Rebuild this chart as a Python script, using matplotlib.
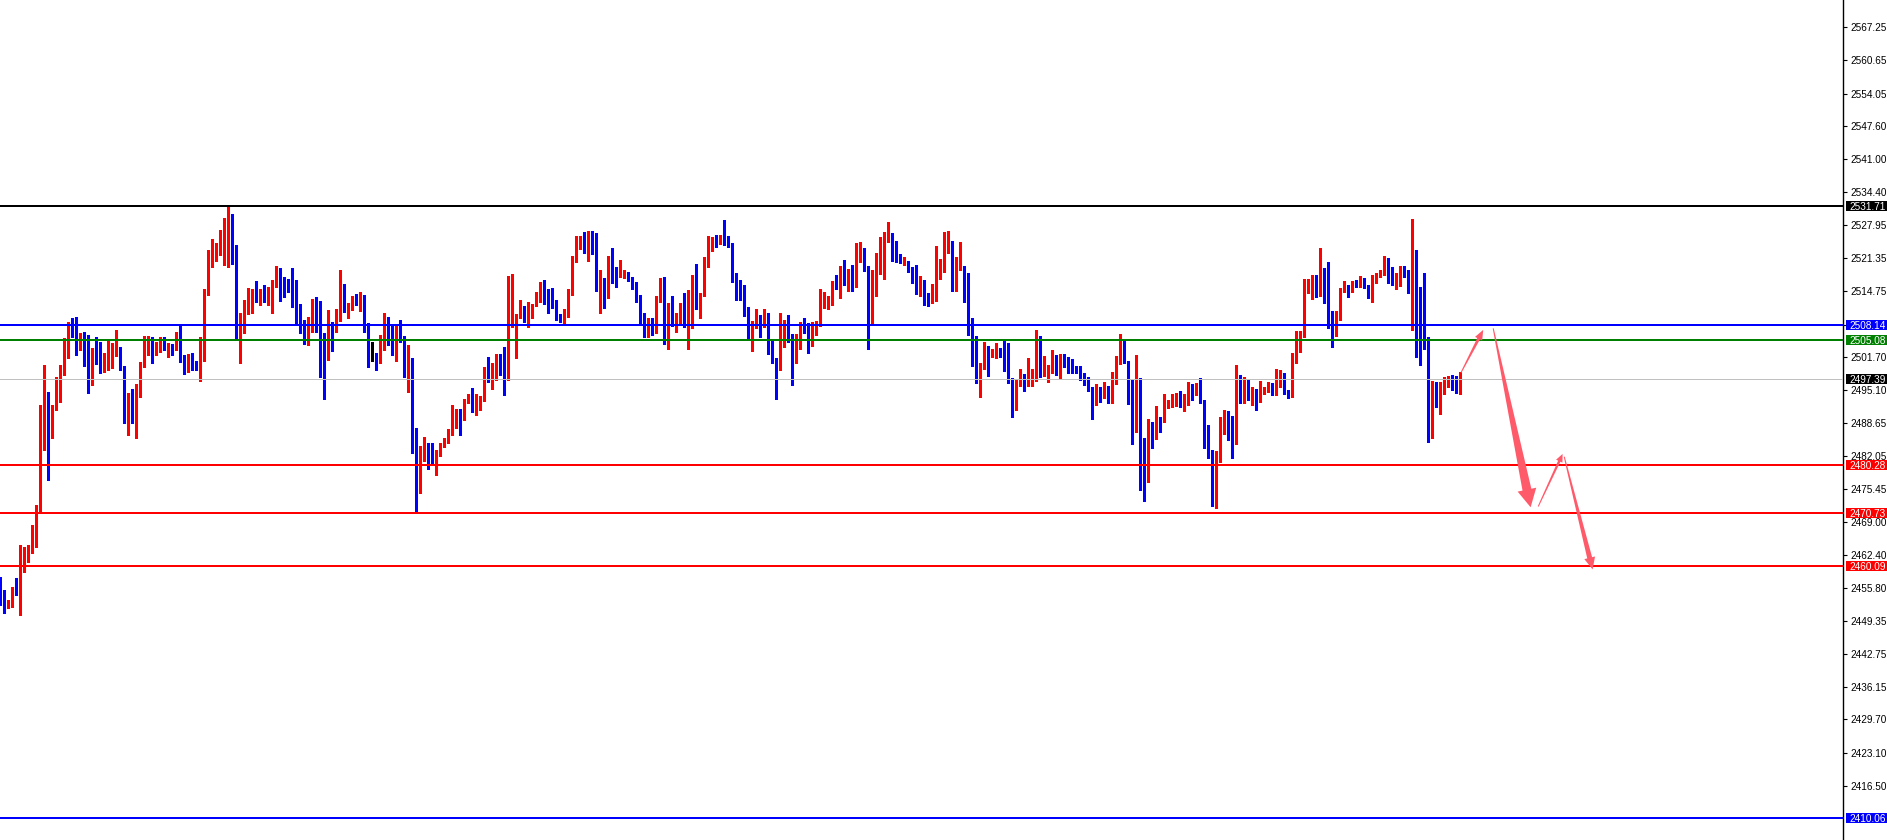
import matplotlib
matplotlib.use("Agg")
import matplotlib.pyplot as plt
from matplotlib.patches import Polygon, Rectangle
import matplotlib.transforms as mtransforms
import numpy as np

# ---------------- data ----------------
opens = [
 2457.41,2454.76,2452.11,2452.44,2455.42,2454.76,2461.71,2462.04,2463.04,2464.16,
 2471.98,2491.51,2493.96,2486.88,2491.51,2495.82,2499.59,2502.97,2508.07,2508.73,
 2504.56,2505.75,2501.58,2496.15,2503.24,2502.90,2499.99,2499.92,2502.31,2502.97,
 2503.43,2499.33,2489.06,2494.36,2489.33,2495.95,2500.12,2503.76,2504.76,2503.24,
 2503.90,2505.42,2503.24,2504.10,2503.24,2504.76,2501.91,2499.33,2501.45,2500.78,
 2499.13,2502.11,2514.69,2519.66,2521.31,2522.64,2526.15,2526.61,2529.72,2523.76,
 2508.07,2508.73,2510.26,2513.04,2514.89,2513.83,2514.69,2512.71,2513.17,2516.48,
 2519.33,2517.34,2516.02,2515.02,2514.36,2509.73,2507.08,2505.09,2509.06,2511.71,
 2510.39,2502.90,2501.12,2508.53,2506.94,2508.93,2515.82,2511.18,2511.71,2513.83,
 2512.51,2513.70,2507.41,2501.98,2502.11,2501.58,2505.95,2507.54,2507.08,2503.30,
 2507.08,2504.96,2499.26,2500.45,2487.54,2479.79,2481.58,2484.23,2482.24,2481.91,
 2482.70,2484.23,2484.89,2487.21,2489.53,2490.85,2489.53,2492.64,2493.17,2491.51,
 2492.64,2493.17,2498.80,2498.60,2498.80,2501.31,2501.12,2498.34,2508.93,2509.39,
 2510.06,2510.85,2509.39,2510.39,2511.84,2512.71,2515.22,2514.23,2513.17,2512.17,
 2510.06,2508.73,2510.92,2514.49,2520.85,2523.76,2524.96,2524.82,2525.29,2522.97,
 2515.02,2516.02,2515.69,2521.64,2518.20,2517.67,2517.94,2518.47,2517.34,2515.55,
 2513.24,2509.73,2508.53,2509.06,2507.08,2513.57,2514.82,2504.76,2511.05,2508.60,
 2508.86,2511.51,2509.73,2512.04,2514.69,2511.84,2514.23,2519.79,2524.16,2524.96,
 2524.30,2525.62,2525.09,2524.43,2517.01,2516.21,2515.82,2511.51,2505.55,2508.40,
 2509.86,2508.07,2510.06,2504.96,2501.25,2500.45,2506.28,2507.54,2506.08,2501.58,
 2505.09,2508.07,2507.74,2504.56,2506.94,2507.94,2512.04,2512.51,2512.51,2516.35,
 2515.69,2518.80,2516.68,2519.00,2516.88,2522.64,2522.97,2519.79,2508.93,2516.48,
 2521.98,2522.17,2524.96,2525.75,2522.97,2521.12,2520.65,2520.78,2519.53,2517.80,
 2515.82,2516.02,2513.50,2513.04,2513.50,2517.47,2519.00,2522.64,2524.16,2515.02,
 2519.33,2519.66,2515.02,2509.06,2502.31,2497.34,2499.33,2502.31,2502.11,2502.11,
 2502.90,2502.90,2500.65,2497.14,2491.84,2496.61,2496.94,2496.35,2497.34,2498.60,
 2505.62,2498.00,2498.47,2499.46,2501.78,2499.00,2501.91,2501.31,2500.12,2499.46,
 2499.46,2497.47,2497.14,2495.82,2493.37,2495.15,2494.49,2495.82,2494.82,2497.60,
 2500.59,2503.90,2500.78,2497.14,2489.39,2493.17,2480.25,2477.94,2488.20,2485.75,
 2489.53,2489.06,2491.84,2492.64,2492.71,2493.17,2492.04,2493.17,2495.15,2494.82,
 2495.82,2493.04,2484.23,2482.04,2472.97,2481.38,2488.87,2489.20,2486.41,2485.09,
 2496.15,2493.83,2496.81,2493.83,2494.49,2493.04,2495.15,2495.29,2495.69,2495.02,
 2496.15,2497.94,2494.82,2494.03,2501.78,2504.30,2506.28,2514.56,2515.22,2516.21,
 2515.15,2517.54,2514.82,2508.53,2506.94,2510.06,2514.89,2515.55,2514.69,2516.68,
 2515.89,2517.21,2515.82,2513.57,2517.34,2518.00,2518.20,2519.99,2519.00,2516.21,
 2517.54,2519.00,2519.00,2516.15,2522.17,2509.20,2506.74,2505.22,2488.67,2495.49,
 2494.36,2495.49,2496.61,2497.67,2496.81,2494.96]

highs = [
 2458.07,2455.42,2453.44,2456.08,2457.74,2464.36,2464.03,2464.36,2468.33,2472.31,
 2492.18,2500.12,2494.82,2492.18,2497.80,2500.12,2505.42,2508.73,2509.39,2509.73,
 2506.55,2506.74,2506.08,2503.43,2505.75,2504.63,2502.44,2504.96,2504.56,2507.08,
 2503.63,2499.92,2494.62,2495.29,2496.35,2500.78,2505.88,2505.88,2505.75,2504.76,
 2505.75,2505.75,2504.56,2504.30,2506.74,2508.07,2502.11,2502.31,2502.57,2500.98,
 2505.75,2515.15,2522.97,2525.09,2524.30,2526.94,2529.26,2531.71,2530.12,2523.96,
 2510.39,2513.04,2515.35,2515.15,2516.88,2515.22,2516.02,2515.69,2517.01,2519.79,
 2519.33,2517.67,2517.14,2519.33,2517.01,2512.24,2509.06,2509.73,2513.24,2513.70,
 2512.84,2506.41,2511.05,2508.73,2511.25,2519.00,2516.21,2512.37,2513.83,2514.16,
 2514.62,2514.03,2508.40,2504.63,2502.44,2506.08,2510.39,2509.73,2508.07,2508.07,
 2509.06,2505.88,2504.10,2501.45,2487.54,2484.03,2485.75,2484.56,2484.56,2483.24,
 2484.69,2485.55,2487.41,2492.18,2491.31,2491.31,2493.30,2494.36,2495.49,2494.36,
 2493.96,2499.79,2501.64,2500.45,2502.31,2502.24,2503.76,2517.80,2518.20,2510.26,
 2513.04,2511.91,2512.57,2512.24,2514.62,2516.54,2517.01,2515.29,2515.42,2513.04,
 2510.26,2511.25,2515.15,2521.78,2525.75,2525.75,2526.48,2526.81,2526.74,2526.41,
 2519.00,2517.47,2521.78,2523.43,2519.66,2520.98,2519.00,2518.67,2517.67,2516.54,
 2514.03,2510.52,2509.39,2509.39,2513.83,2517.47,2517.54,2512.51,2513.83,2510.52,
 2512.37,2514.49,2515.02,2518.00,2520.19,2514.49,2521.64,2525.75,2525.62,2525.95,
 2525.95,2528.93,2525.75,2524.43,2518.33,2517.01,2516.02,2511.71,2508.93,2511.25,
 2510.06,2511.25,2510.39,2504.96,2501.45,2510.52,2509.06,2510.06,2506.28,2506.28,
 2508.73,2509.53,2508.53,2508.60,2508.86,2515.22,2514.69,2513.83,2516.88,2518.00,
 2519.79,2520.98,2519.13,2519.99,2524.30,2524.49,2523.30,2519.79,2519.00,2522.31,
 2525.62,2526.61,2528.60,2526.28,2524.82,2522.17,2521.64,2520.85,2519.66,2519.99,
 2517.80,2517.01,2514.36,2516.21,2523.76,2521.18,2526.61,2526.74,2524.76,2521.64,
 2524.63,2519.79,2518.47,2509.39,2505.88,2500.45,2504.63,2503.90,2503.24,2504.43,
 2503.43,2504.96,2504.56,2497.47,2497.14,2499.33,2498.34,2501.45,2499.26,2507.08,
 2505.95,2501.98,2500.12,2503.10,2502.11,2502.31,2502.31,2501.78,2501.25,2499.92,
 2499.92,2498.47,2497.67,2495.82,2496.35,2495.69,2496.81,2495.95,2498.80,2501.91,
 2506.28,2504.96,2500.98,2497.14,2502.11,2497.47,2485.55,2489.33,2488.73,2491.97,
 2489.86,2494.36,2493.17,2494.36,2494.62,2494.96,2494.36,2496.81,2496.35,2496.61,
 2497.47,2493.17,2488.20,2483.24,2483.10,2489.72,2491.18,2491.05,2489.99,2500.12,
 2498.14,2497.67,2497.14,2495.82,2495.29,2496.94,2495.82,2496.68,2496.61,2499.33,
 2499.13,2498.60,2495.15,2502.44,2506.94,2506.94,2517.14,2517.14,2518.00,2518.00,
 2523.30,2519.33,2520.65,2510.92,2510.92,2515.35,2516.88,2516.02,2516.88,2517.01,
 2517.80,2517.34,2516.02,2518.00,2518.33,2519.00,2521.84,2521.31,2519.53,2518.47,
 2519.79,2519.79,2519.00,2529.13,2522.97,2515.55,2518.47,2505.75,2496.94,2496.68,
 2496.68,2497.67,2498.00,2498.14,2497.94,2498.67]

lows = [
 2452.44,2450.79,2451.78,2452.11,2454.43,2450.46,2459.06,2461.05,2462.70,2464.03,
 2470.98,2483.24,2477.27,2485.55,2491.18,2492.84,2498.14,2501.45,2505.75,2502.11,
 2503.10,2499.92,2494.62,2496.15,2500.32,2498.60,2498.80,2499.13,2499.46,2501.91,
 2499.13,2488.67,2486.22,2488.53,2485.55,2493.70,2499.79,2502.11,2500.59,2502.11,
 2502.77,2503.10,2501.78,2502.11,2503.10,2500.78,2498.34,2498.80,2499.13,2499.13,
 2497.01,2500.98,2514.03,2519.53,2520.85,2521.98,2519.99,2519.53,2520.19,2505.42,
 2500.45,2506.41,2510.26,2510.52,2512.71,2512.04,2512.71,2512.04,2510.52,2515.69,
 2512.91,2513.57,2514.69,2511.58,2508.07,2506.41,2504.30,2504.10,2506.74,2506.74,
 2497.80,2493.37,2501.12,2502.97,2506.74,2508.93,2510.72,2509.39,2511.05,2512.04,
 2510.92,2506.74,2499.79,2500.92,2499.13,2500.45,2503.10,2504.10,2502.11,2500.92,
 2504.76,2497.80,2494.82,2482.58,2470.98,2474.76,2481.12,2479.40,2480.45,2478.27,
 2482.11,2483.90,2484.56,2486.22,2487.54,2486.22,2489.20,2492.51,2490.85,2490.19,
 2491.18,2493.04,2496.81,2495.35,2497.14,2498.14,2494.16,2497.14,2507.74,2501.58,
 2509.39,2508.73,2507.74,2509.39,2511.84,2512.57,2512.24,2510.52,2511.51,2509.06,
 2508.60,2508.53,2509.59,2514.03,2520.65,2523.17,2522.44,2520.78,2522.17,2514.89,
 2510.52,2511.38,2513.50,2516.48,2515.55,2517.54,2517.34,2516.88,2515.15,2512.57,
 2508.40,2505.75,2505.75,2506.08,2506.55,2512.71,2504.30,2503.30,2507.87,2506.74,
 2508.53,2507.61,2503.30,2507.54,2511.25,2509.39,2513.90,2519.53,2522.84,2523.50,
 2524.16,2523.96,2523.63,2516.68,2513.04,2513.04,2509.86,2505.22,2502.97,2507.41,
 2505.75,2507.61,2502.31,2500.45,2493.37,2499.13,2503.76,2504.76,2496.15,2500.45,
 2503.30,2506.41,2502.57,2503.90,2506.08,2507.94,2511.38,2511.25,2512.04,2515.22,
 2513.37,2516.02,2514.89,2514.89,2515.69,2520.65,2518.86,2503.24,2508.40,2513.90,
 2518.20,2517.21,2524.63,2520.85,2520.65,2520.45,2519.99,2518.67,2516.48,2514.23,
 2513.83,2512.04,2511.91,2512.37,2512.84,2517.14,2518.67,2522.31,2514.89,2514.89,
 2519.00,2512.71,2506.08,2499.99,2496.48,2493.83,2499.26,2498.00,2501.64,2501.45,
 2501.78,2498.99,2496.48,2489.86,2491.18,2495.95,2495.02,2496.02,2496.02,2497.01,
 2497.80,2497.94,2496.81,2498.60,2498.14,2497.34,2499.66,2498.60,2498.47,2498.47,
 2497.14,2496.15,2494.96,2489.39,2492.18,2492.71,2493.50,2492.51,2492.64,2496.35,
 2500.32,2500.45,2492.38,2484.43,2486.88,2475.29,2473.17,2476.94,2483.70,2485.35,
 2486.88,2488.73,2491.51,2491.84,2492.04,2491.84,2491.05,2492.18,2493.17,2494.16,
 2492.51,2483.57,2481.71,2472.11,2471.65,2480.92,2486.35,2485.22,2481.71,2484.43,
 2492.51,2492.51,2493.17,2492.18,2491.18,2492.71,2494.36,2494.82,2494.16,2494.16,
 2495.82,2494.36,2493.63,2493.70,2500.59,2502.77,2505.75,2514.36,2513.17,2513.57,
 2513.83,2512.37,2507.41,2503.76,2505.88,2509.06,2514.69,2513.57,2514.56,2515.69,
 2515.69,2515.35,2513.37,2512.71,2516.48,2517.67,2518.00,2516.35,2516.02,2515.22,
 2515.89,2517.54,2514.36,2507.08,2501.78,2500.12,2503.24,2484.89,2485.55,2491.84,
 2490.39,2494.36,2495.82,2495.15,2494.49,2494.36]

closes = [
 2453.10,2453.10,2452.44,2455.75,2454.63,2461.71,2462.17,2463.17,2464.36,2471.98,
 2491.51,2493.96,2486.88,2491.51,2495.82,2499.79,2503.24,2507.74,2506.74,2504.56,
 2505.62,2501.58,2496.15,2503.24,2502.97,2499.92,2500.19,2502.44,2503.24,2503.43,
 2499.13,2489.06,2494.36,2489.33,2496.15,2500.32,2503.90,2504.76,2503.24,2504.10,
 2505.42,2503.90,2504.10,2503.24,2504.96,2501.78,2499.33,2501.64,2500.59,2499.13,
 2502.31,2514.89,2519.79,2521.64,2522.77,2526.28,2526.74,2529.72,2523.63,2508.07,
 2508.73,2510.39,2513.17,2514.89,2513.70,2514.69,2512.71,2513.37,2516.68,2519.33,
 2517.01,2515.82,2514.82,2514.36,2509.59,2506.74,2505.09,2509.20,2511.71,2510.26,
 2502.77,2501.12,2508.40,2506.94,2509.06,2515.82,2511.25,2512.04,2513.83,2512.37,
 2513.70,2507.41,2501.98,2501.98,2501.58,2506.08,2507.54,2506.94,2503.30,2507.08,
 2504.96,2499.13,2500.45,2487.08,2479.79,2481.58,2484.23,2482.04,2481.91,2482.90,
 2484.56,2485.09,2487.34,2489.72,2490.85,2489.53,2493.04,2493.17,2491.51,2492.84,
 2493.37,2498.93,2498.60,2499.00,2501.45,2500.98,2498.34,2509.06,2509.73,2510.26,
 2510.72,2509.53,2510.59,2511.84,2512.84,2515.22,2514.03,2513.04,2512.17,2509.86,
 2508.86,2511.05,2514.56,2520.98,2524.16,2524.96,2524.82,2525.29,2522.84,2514.89,
 2516.02,2515.69,2521.64,2518.00,2517.67,2518.20,2518.47,2517.14,2515.22,2512.84,
 2509.53,2508.53,2509.06,2507.08,2513.70,2514.82,2504.76,2511.05,2508.73,2509.06,
 2511.51,2509.73,2512.24,2514.69,2511.84,2514.23,2519.99,2524.43,2524.96,2524.16,
 2525.62,2524.96,2524.16,2516.88,2516.02,2515.69,2511.38,2505.55,2508.53,2509.86,
 2508.07,2510.06,2504.76,2501.25,2500.45,2506.41,2507.54,2506.08,2501.78,2505.09,
 2508.07,2507.28,2504.43,2507.08,2508.07,2512.24,2513.04,2513.04,2516.35,2515.69,
 2518.67,2516.68,2519.00,2516.88,2522.77,2523.10,2519.66,2508.93,2516.88,2522.17,
 2522.64,2525.16,2525.75,2522.84,2520.85,2520.85,2520.85,2519.20,2517.54,2515.89,
 2516.02,2513.24,2513.17,2513.70,2517.80,2519.20,2522.77,2524.16,2515.02,2519.46,
 2519.66,2515.15,2508.93,2502.24,2497.34,2499.46,2502.31,2502.11,2503.10,2502.90,
 2502.77,2500.59,2496.94,2491.84,2496.68,2496.94,2496.35,2497.47,2498.93,2505.62,
 2498.00,2498.60,2499.59,2501.78,2498.80,2501.91,2501.25,2499.79,2499.13,2499.13,
 2497.34,2496.94,2495.62,2493.37,2495.15,2494.69,2495.95,2494.82,2497.67,2500.65,
 2503.90,2500.59,2497.01,2489.39,2493.17,2479.79,2477.94,2488.40,2485.88,2489.39,
 2489.06,2491.97,2492.84,2493.04,2493.17,2492.18,2493.37,2495.15,2494.82,2495.82,
 2492.84,2484.10,2481.91,2472.97,2481.38,2489.00,2489.20,2486.35,2485.09,2496.15,
 2493.83,2496.48,2493.83,2494.49,2493.17,2495.35,2495.35,2495.69,2495.02,2496.35,
 2497.94,2494.62,2494.03,2501.91,2504.30,2506.28,2514.69,2515.49,2516.21,2515.15,
 2517.54,2514.23,2508.53,2506.94,2510.26,2515.02,2515.55,2514.69,2516.68,2515.89,
 2517.21,2515.69,2513.57,2517.54,2518.20,2518.47,2519.99,2519.00,2516.21,2517.67,
 2519.20,2518.67,2516.15,2522.17,2509.06,2506.55,2505.22,2488.67,2495.49,2494.36,
 2495.69,2496.94,2497.67,2496.61,2494.96,2497.39]

level_prices = [2531.71, 2508.14, 2505.08, 2497.39, 2480.28, 2470.73, 2460.09, 2410.06]
level_labels = ["2531.71", "2508.14", "2505.08", "2497.39", "2480.28", "2470.73", "2460.09", "2410.06"]

tick_values = [2416.50, 2423.10, 2429.70, 2436.15, 2442.75, 2449.35, 2455.80, 2462.40,
               2469.00, 2475.45, 2482.05, 2488.65, 2495.10, 2501.70, 2508.15, 2514.75,
               2521.35, 2527.95, 2534.40, 2541.00, 2547.60, 2554.05, 2560.65, 2567.25]
tick_labels = ["2416.50", "2423.10", "2429.70", "2436.15", "2442.75", "2449.35", "2455.80", "2462.40",
               "2469.00", "2475.45", "2482.05", "2488.65", "2495.10", "2501.70", "2508.15", "2514.75",
               "2521.35", "2527.95", "2534.40", "2541.00", "2547.60", "2554.05", "2560.65", "2567.25"]

# forecast arrows: (bar index, price)
arrow_tail_x = [365.2, 373.25, 384.5, 391.0]
arrow_tail_y = [2498.6, 2507.4, 2472.0, 2481.9]
arrow_head_x = [370.75, 382.6, 390.6, 398.1]
arrow_head_y = [2507.1, 2471.85, 2482.45, 2459.5]

# ---------------- styles ----------------
BULL = "#ff0000"
BEAR = "#0000ff"
DOJI = "#000000"
level_line_colors = ["#000000", "#0000ff", "#008000", "#c0c0c0", "#ff0000", "#ff0000", "#ff0000", "#0000ff"]
level_box_colors = ["#000000", "#0000ff", "#008000", "#000000", "#ff0000", "#ff0000", "#ff0000", "#0000ff"]
level_line_widths = [1.44, 1.44, 1.44, 0.72, 1.44, 1.44, 1.44, 1.44]
arrow_color = "#ff5a6a"
# (tail width, shaft width at head, head width, head length) in pixels
arrow_shapes = [(1.0, 3.0, 8.0, 10.0), (1.0, 9.0, 19.0, 18.0), (1.0, 2.5, 7.0, 8.0), (1.0, 5.0, 11.0, 12.0)]

W_PX, H_PX, DPI = 1887, 840, 100
AX_RIGHT_PX = 1843

fig = plt.figure(figsize=(W_PX / DPI, H_PX / DPI), dpi=DPI)
fig.patch.set_facecolor("white")
ax = fig.add_axes([0, 0, AX_RIGHT_PX / W_PX, 1])
ax.set_facecolor("white")

n = len(closes)
x = np.arange(n)
o = np.array(opens); h = np.array(highs); l = np.array(lows); c = np.array(closes)
cols = np.where(c > o, BULL, np.where(c < o, BEAR, DOJI))

ax.set_xlim(-0.075, 460.7)
ax.set_ylim(2405.74, 2572.64)

ax.vlines(x, l, h, colors=cols, linewidth=0.75, antialiased=False, zorder=2)
body_bottom = np.minimum(o, c)
body_h = np.maximum(np.abs(c - o), 0.2)
ax.bar(x, body_h, bottom=body_bottom, width=0.75, color=cols, linewidth=0,
       antialiased=False, zorder=2)

for p, col, lw in zip(level_prices, level_line_colors, level_line_widths):
    ax.axhline(p, color=col, linewidth=lw, antialiased=False, zorder=3)

# axis styling
for s in ["top", "left", "bottom"]:
    ax.spines[s].set_visible(False)
ax.spines["right"].set_color("black")
ax.spines["right"].set_linewidth(1.0)
ax.set_xticks([])
ax.yaxis.tick_right()
ax.set_yticks(tick_values)
ax.set_yticklabels(tick_labels, fontsize=7.2, family="Liberation Sans")
ax.tick_params(axis="y", direction="out", length=3, width=0.8, pad=2.5, colors="black")

# price boxes on the axis
trans = mtransforms.blended_transform_factory(ax.transAxes, ax.transData)
box_h = 10.0 * (ax.get_ylim()[1] - ax.get_ylim()[0]) / H_PX
x0 = 1845.5 / AX_RIGHT_PX
bw = (W_PX - 1845.5) / AX_RIGHT_PX
for p, lab, bc in zip(level_prices, level_labels, level_box_colors):
    ax.add_patch(Rectangle((x0, p - box_h / 2), bw, box_h, transform=trans,
                           facecolor=bc, edgecolor="none", clip_on=False, zorder=10))
    ax.text(1849 / AX_RIGHT_PX, p, lab, transform=trans, color="white",
            fontsize=7.2, family="Liberation Sans", ha="left", va="center_baseline",
            clip_on=False, zorder=11)

# tapered arrows
T = ax.transData
for tx, ty, hx, hy, (w0, w1, Wd, hl) in zip(arrow_tail_x, arrow_tail_y, arrow_head_x,
                                           arrow_head_y, arrow_shapes):
    p0 = T.transform((tx, ty)); p1 = T.transform((hx, hy))
    d = p1 - p0
    L = np.hypot(d[0], d[1])
    u = d / L
    nv = np.array([-u[1], u[0]])
    base = p1 - u * hl
    pts = [p0 + nv * w0 / 2, base + nv * w1 / 2, base + nv * Wd / 2, p1,
           base - nv * Wd / 2, base - nv * w1 / 2, p0 - nv * w0 / 2]
    pts_d = T.inverted().transform(np.array(pts))
    ax.add_patch(Polygon(pts_d, closed=True, facecolor=arrow_color,
                         edgecolor="none", zorder=5))

fig.savefig("out.png", dpi=DPI, facecolor="white")
